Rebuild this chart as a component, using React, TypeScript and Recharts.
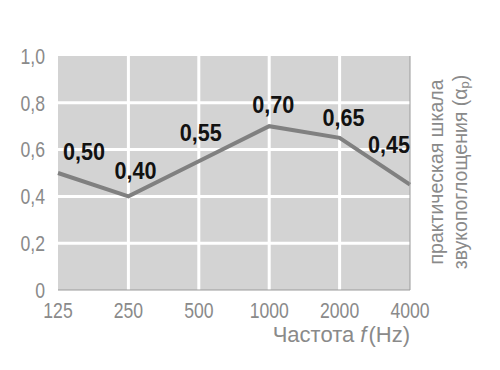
import React from 'react';
import { LineChart, Line, XAxis, YAxis, CartesianGrid, ReferenceLine, LabelList, Label } from 'recharts';

// octave band centre frequencies, Hz
const FREQS = ['125', '250', '500', '1000', '2000', '4000'];
// practical sound absorption coefficient per band
const ALPHA_P = [0.5, 0.4, 0.55, 0.7, 0.65, 0.45];
const Y_TICKS = [0, 0.2, 0.4, 0.6, 0.8, 1];

const data = FREQS.map((f, i) => ({ f, alpha: ALPHA_P[i] }));

const FONT = '"Liberation Sans", Arial, Helvetica, sans-serif';
const GREY_TEXT = '#8a8a8a';

const comma = (v: number) => (v === 0 ? '0' : v.toFixed(1).replace('.', ','));
const comma2 = (v: number) => v.toFixed(2).replace('.', ',');

// the print uses a condensed face, squeeze the text horizontally
const SQUEEZE_TICK = 0.8;
const SQUEEZE_LABEL = 0.9;

// nudges so the values sit above the line like in the print
const NUDGE = [
  [26, -21],
  [7, -26],
  [2, -29],
  [4, -22],
  [4, -20],
  [-21, -40],
];

const ValueLabel = (props: any) => {
  const { x, y, value, index } = props;
  const [dx, dy] = NUDGE[index] || [0, -20];
  return (
    <g transform={`translate(${x + dx},${y + dy}) scale(${SQUEEZE_LABEL},1)`}>
      <text
        x={0}
        y={0}
        textAnchor="middle"
        dominantBaseline="central"
        fontFamily={FONT}
        fontWeight="bold"
        fontSize={24}
        fill="#111"
      >
        {comma2(Number(value))}
      </text>
    </g>
  );
};

const XTick = (props: any) => {
  const { x, y, payload } = props;
  return (
    <g transform={`translate(${x},${y}) scale(${SQUEEZE_TICK},1)`}>
      <text x={0} y={0} dy="0.71em" textAnchor="middle" fontFamily={FONT} fontSize={22} fill={GREY_TEXT}>
        {payload.value}
      </text>
    </g>
  );
};

const YTick = (props: any) => {
  const { x, y, payload } = props;
  return (
    <g transform={`translate(${x},${y}) scale(${SQUEEZE_TICK},1)`}>
      <text x={0} y={0} dy="0.355em" textAnchor="end" fontFamily={FONT} fontSize={22} fill={GREY_TEXT}>
        {comma(payload.value)}
      </text>
    </g>
  );
};

const FreqTitle = (props: any) => {
  const { x, y, width } = props.viewBox;
  return (
    <text x={x + width} y={y + 52} textAnchor="end" fontFamily={FONT} fontSize={22} fill={GREY_TEXT}>
      Частота <tspan fontStyle="italic">f</tspan><tspan dx={2}>(Hz)</tspan>
    </text>
  );
};

const ScaleTitle = (props: any) => {
  const { x, y, height } = props.viewBox;
  const cy = y + height / 2 - 1;
  const l1 = x + 26;
  const l2 = x + 50;
  return (
    <g fontFamily={FONT} fontSize={19.5} fill={GREY_TEXT}>
      <text x={l1} y={cy} textAnchor="middle" dominantBaseline="central" transform={`rotate(-90 ${l1} ${cy})`}>
        практическая шкала
      </text>
      <text x={l2} y={cy} textAnchor="middle" dominantBaseline="central" transform={`rotate(-90 ${l2} ${cy})`}>
        звукопоглощения (α<tspan fontSize={13} dy={4}>p</tspan><tspan dy={-4}>)</tspan>
      </text>
    </g>
  );
};

const App: React.FC = () => {
  return (
    <LineChart width={492} height={362} data={data} margin={{ top: 48, right: 0, bottom: 0, left: 0 }}>
      <CartesianGrid horizontal={false} vertical={false} fill="#d3d3d3" />
      {FREQS.slice(1, -1).map((f) => (
        <ReferenceLine key={f} x={f} stroke="#fff" strokeWidth={3} zIndex={-50} />
      ))}
      {Y_TICKS.slice(1, -1).map((t) => (
        <ReferenceLine key={t} y={t} stroke="#fff" strokeWidth={3} zIndex={-50} />
      ))}
      <XAxis
        dataKey="f"
        height={80}
        tickLine={false}
        tickSize={0}
        tickMargin={12}
        axisLine={{ stroke: '#9a9a9a' }}
        tick={<XTick />}
        interval={0}
      >
        <Label content={FreqTitle} />
      </XAxis>
      <YAxis
        domain={[0, 1]}
        ticks={Y_TICKS}
        width={50}
        axisLine={false}
        tickLine={false}
        tickSize={0}
        tickMargin={13}
        tick={<YTick />}
      />
      <YAxis
        yAxisId="right"
        orientation="right"
        domain={[0, 1]}
        width={90}
        tick={false}
        tickLine={false}
        axisLine={{ stroke: '#9a9a9a' }}
      >
        <Label content={ScaleTitle} />
      </YAxis>
      <Line
        type="linear"
        dataKey="alpha"
        stroke="#808080"
        strokeWidth={4}
        dot={false}
        activeDot={false}
        isAnimationActive={false}
      >
        <LabelList dataKey="alpha" content={ValueLabel} />
      </Line>
    </LineChart>
  );
};

export default App;
